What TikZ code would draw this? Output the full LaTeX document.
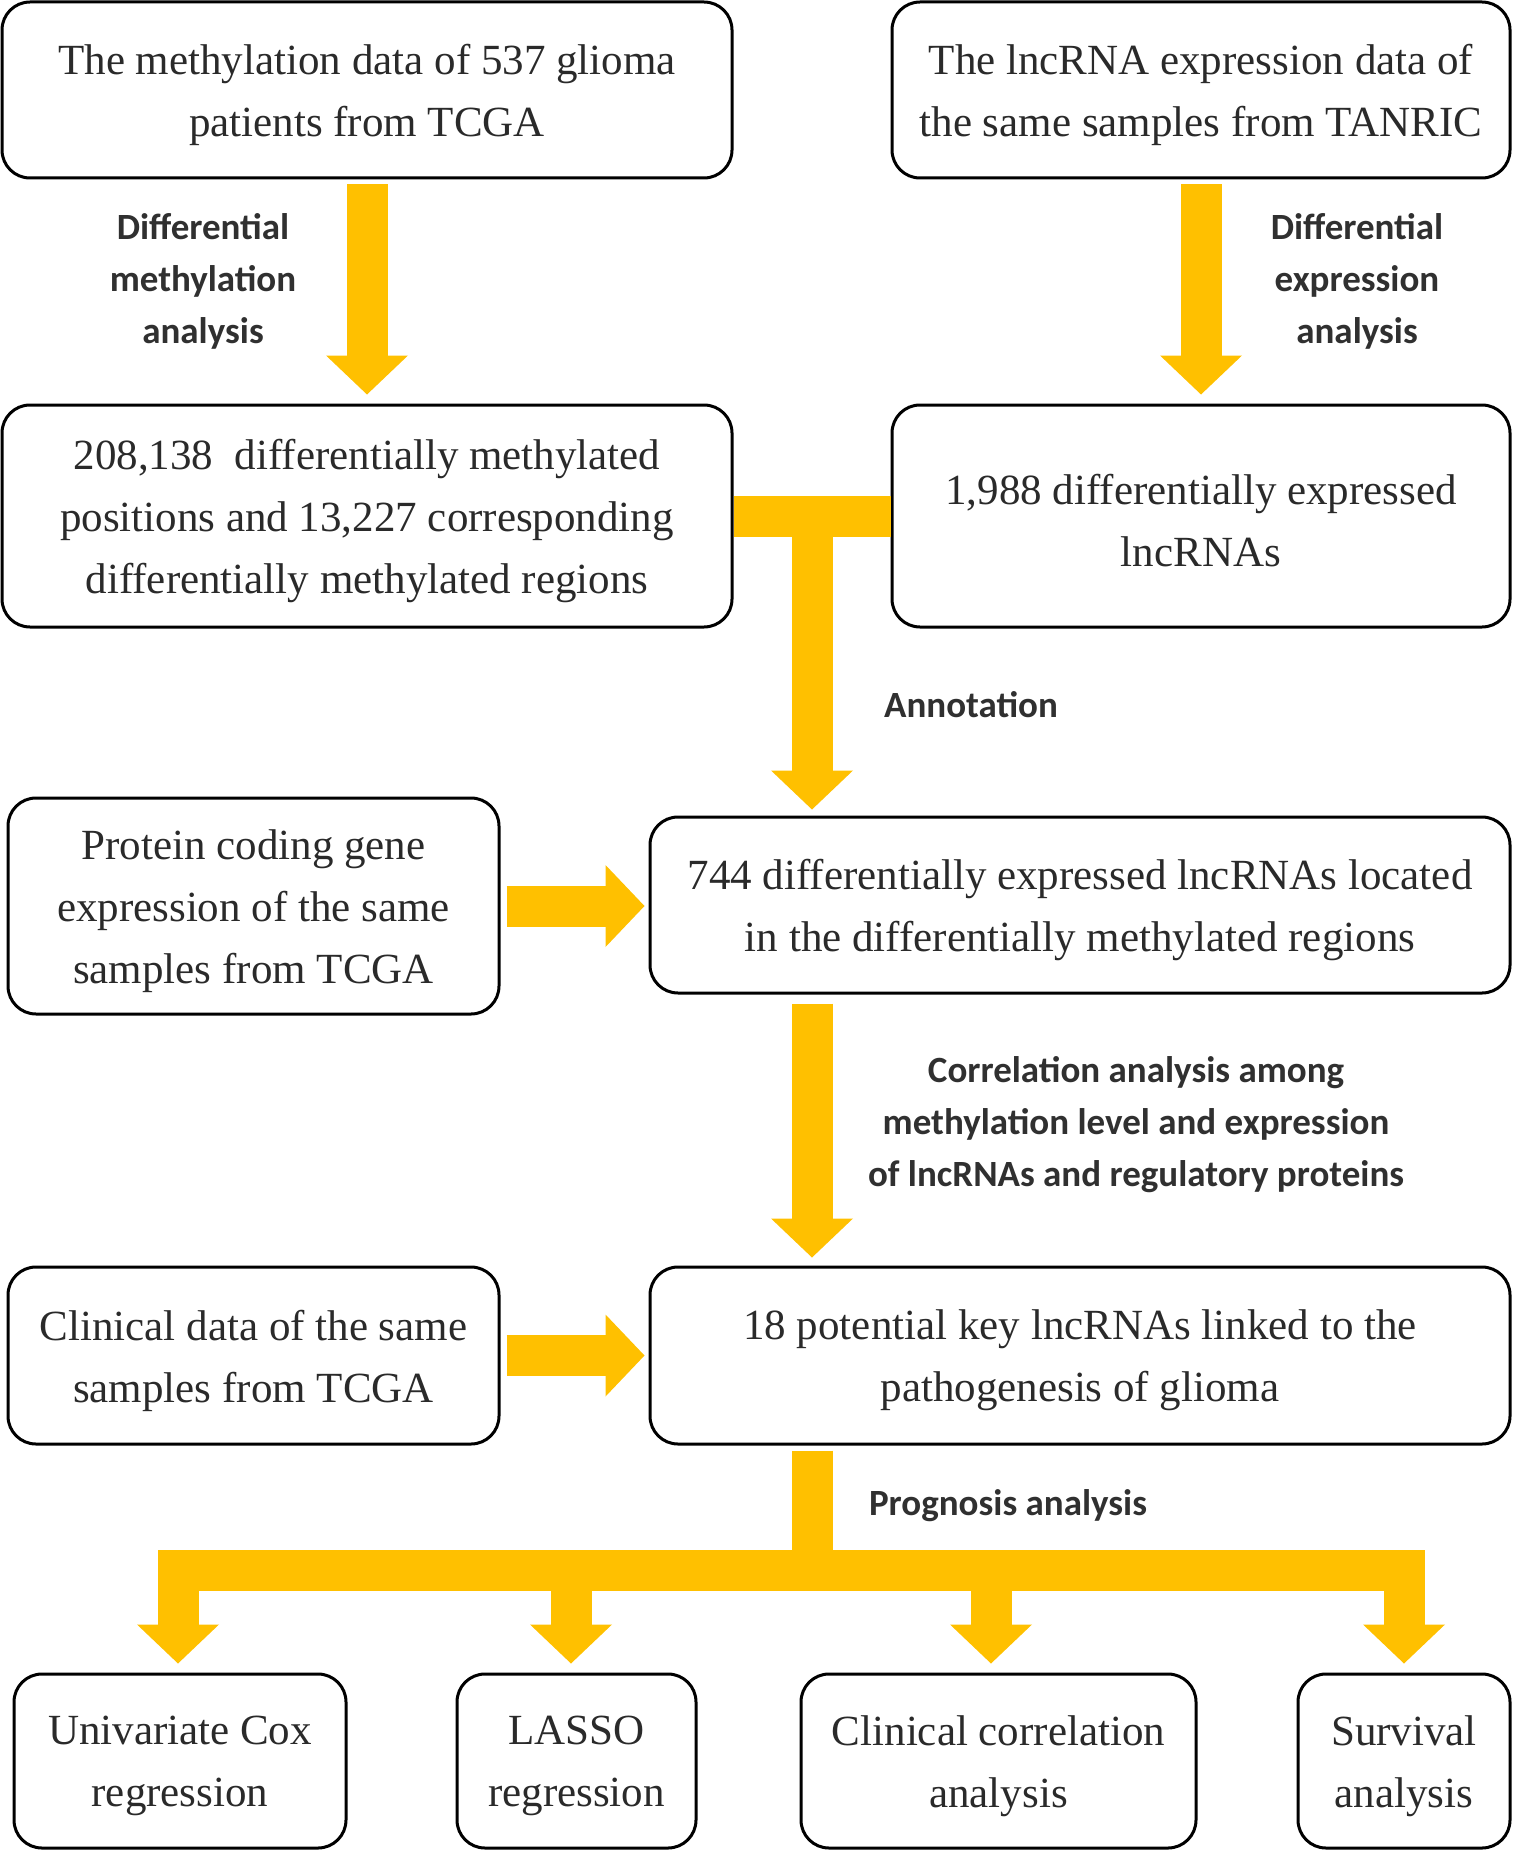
\documentclass[tikz,border=0pt]{standalone}
\usepackage{fontspec}
\setmainfont{Liberation Serif}
\newfontfamily\labfont{Carlito}
\usetikzlibrary{arrows.meta,calc}
\definecolor{ay}{HTML}{FFC000}
\definecolor{tx}{HTML}{2A2A2A}
\definecolor{lb}{HTML}{303030}
\begin{document}
\begin{tikzpicture}[x=1pt,y=-1pt,
  box/.style={draw=black, line width=3pt, rounded corners=28pt, fill=white,
    inner sep=0pt},
  boxtext/.style={align=center, text=tx, inner sep=0pt, yshift=-5pt,
    font=\fontsize{43}{62}\selectfont},
  lab/.style={align=center, text=lb, inner sep=0pt,
    font=\labfont\bfseries\fontsize{37}{52}\selectfont},
  bar/.style={draw=ay, line width=41pt, line cap=butt, line join=miter},
  barrow/.style={bar, -{Triangle[width=82pt,length=39pt,line width=0pt]}},
  barrow2/.style={bar, {Triangle[width=82pt,length=39pt,line width=0pt]}-{Triangle[width=82pt,length=39pt,line width=0pt]}}
]
\useasboundingbox (0,0) rectangle (1516,1851);

\node[box, minimum width=730pt, minimum height=176pt,
  label={[boxtext]center:The methylation data of 537 glioma\\patients from TCGA}] (b1) at (367,90) {};
\node[box, minimum width=618pt, minimum height=176pt,
  label={[boxtext]center:The lncRNA expression data of\\the same samples from TANRIC}] (b2) at (1201,90) {};
\node[box, minimum width=730pt, minimum height=222pt,
  label={[boxtext]center:208,138~ differentially methylated\\positions and 13,227 corresponding\\differentially methylated regions}] (b3) at (367,516) {};
\node[box, minimum width=618pt, minimum height=222pt,
  label={[boxtext]center:1,988 differentially expressed\\lncRNAs}] (b4) at (1201,516) {};
\node[box, minimum width=491pt, minimum height=216pt,
  label={[boxtext]center:Protein coding gene\\expression of the same\\samples from TCGA}] (b5) at (253.5,906) {};
\node[box, minimum width=860pt, minimum height=176pt,
  label={[boxtext]center:744 differentially expressed lncRNAs located\\in the differentially methylated regions}] (b6) at (1080,905) {};
\node[box, minimum width=491pt, minimum height=177pt,
  label={[boxtext]center:Clinical data of the same\\samples from TCGA}] (b7) at (253.5,1355.5) {};
\node[box, minimum width=860pt, minimum height=177pt,
  label={[boxtext]center:18 potential key lncRNAs linked to the\\pathogenesis of glioma}] (b8) at (1080,1355.5) {};
\node[box, minimum width=332pt, minimum height=174pt,
  label={[boxtext]center:Univariate Cox\\regression}] (b9) at (180,1761) {};
\node[box, minimum width=239pt, minimum height=174pt,
  label={[boxtext]center:LASSO\\regression}] (b10) at (576.5,1761) {};
\node[box, minimum width=395pt, minimum height=174pt,
  label={[boxtext]center:Clinical correlation\\analysis}] (b11) at (998.5,1761) {};
\node[box, minimum width=212pt, minimum height=174pt,
  label={[boxtext]center:Survival\\analysis}] (b12) at (1404,1761) {};

% labels
\node[lab] (l1) at (203,281) {Differential\\methylation\\analysis};
\node[lab] (l2) at (1357,281) {Differential\\expression\\analysis};
\node[lab] (l3) at (971,705) {Annotation};
\node[lab] (l4) at (1136,1125) {Correlation analysis among\\methylation level and expression\\of lncRNAs and regulatory proteins};
\node[lab] (l5) at (1008,1506) {Prognosis analysis};

% connectors
\draw[barrow, shorten <=5pt, shorten >=9pt] (b1.south) -- (b3.north);
\draw[barrow, shorten <=5pt, shorten >=9pt] (b2.south) -- (b4.north);
\coordinate (tc) at ($(b3.east)!0.5!(b4.west)$);
\draw[bar] (b3.east) -- (b4.west);
\draw[barrow, shorten >=6pt] (tc) -- (tc |- b6.north);
\draw[barrow, shorten <=9pt, shorten >=8pt] (tc |- b6.south) -- (tc |- b8.north);
\draw[barrow, shorten <=6pt, shorten >=4pt] (b5.east) -- (b5.east -| b6.west);
\draw[barrow, shorten <=6pt, shorten >=4pt] (b7.east) -- (b7.east -| b8.west);

\coordinate (jn) at (812,1570.5);
\coordinate (bl) at (178,1570.5);
\coordinate (br) at (1404,1570.5);
\coordinate (m1) at (571,1570.5);
\coordinate (m2) at (991,1570.5);
\draw[bar, shorten <=5pt] (tc |- b8.south) -- (jn);
\draw[barrow2, shorten <=9pt, shorten >=9pt] (bl |- b9.north) -- (bl) -- (br) -- (br |- b12.north);
\draw[barrow, shorten >=9pt] (m1) -- (m1 |- b10.north);
\draw[barrow, shorten >=9pt] (m2) -- (m2 |- b11.north);
\end{tikzpicture}
\end{document}
